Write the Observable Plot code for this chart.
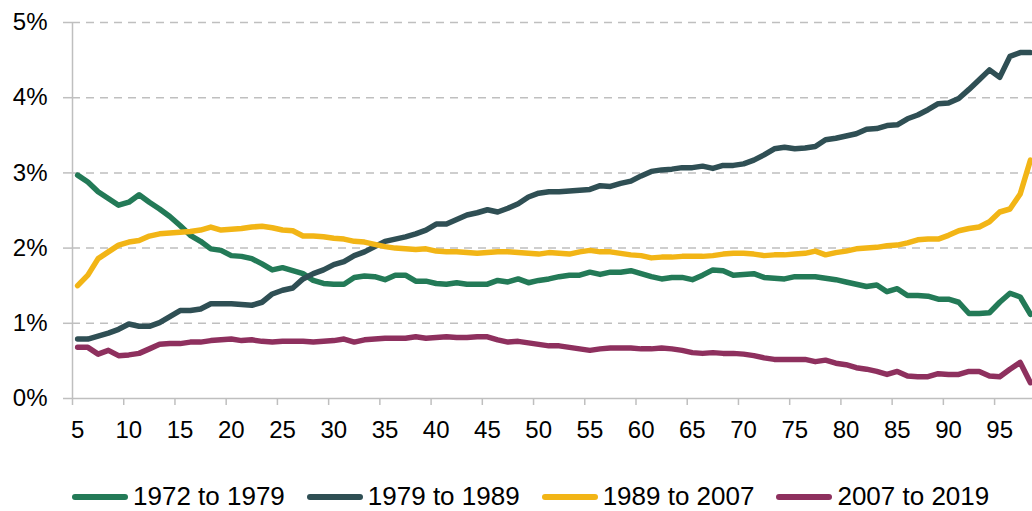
<!DOCTYPE html>
<html>
<head>
<meta charset="utf-8">
<script src="https://cdn.jsdelivr.net/npm/d3@7"></script>
<script src="https://cdn.jsdelivr.net/npm/@observablehq/plot@0.6"></script>
<style>
  html, body { margin: 0; padding: 0; background: #fff; overflow: hidden; }
  #chart svg { display: block; }
  .legend { display: flex; align-items: center; padding-left: 72px; padding-top: 21px; height: 30px; line-height: 30px;
            font-family: "Liberation Sans", Arial, sans-serif; font-size: 26px; color: #000; }
  .legend .item { display: flex; align-items: center; margin-right: 22px; }
  .legend .sw { display: inline-block; width: 56px; height: 6px; border-radius: 3px; margin-right: 5px; margin-top: 2px; }
</style>
</head>
<body>
<div id="chart"></div>
<script>
// Percentile categories (x)
const percentiles = d3.range(5, 99);
const xTickLabels = [5, 10, 15, 20, 25, 30, 35, 40, 45, 50, 55, 60, 65, 70, 75, 80, 85, 90, 95];
const yTickValues = [0, 1, 2, 3, 4, 5];

const seriesNames = ["1972 to 1979", "1979 to 1989", "1989 to 2007", "2007 to 2019"];
const seriesColors = ["#237A57", "#2F4F54", "#F2B516", "#8E305E"];

// Values (%) for percentiles 5..98
const v1972 = [2.97,2.88,2.75,2.66,2.57,2.61,2.71,2.61,2.52,2.42,2.30,2.17,2.09,1.99,1.97,1.90,1.89,1.86,1.79,1.71,
  1.74,1.70,1.66,1.57,1.53,1.52,1.52,1.61,1.63,1.62,1.58,1.64,1.64,1.56,1.56,1.53,1.52,1.54,1.52,1.52,
  1.52,1.57,1.55,1.59,1.54,1.57,1.59,1.62,1.64,1.64,1.68,1.65,1.68,1.68,1.70,1.66,1.62,1.59,1.61,1.61,
  1.58,1.64,1.71,1.70,1.64,1.65,1.66,1.61,1.60,1.59,1.62,1.62,1.62,1.60,1.58,1.55,1.52,1.49,1.51,1.42,
  1.46,1.37,1.37,1.36,1.32,1.32,1.28,1.13,1.13,1.14,1.28,1.40,1.35,1.12];
const v1979 = [0.79,0.79,0.83,0.87,0.92,0.99,0.96,0.96,1.01,1.09,1.17,1.17,1.19,1.26,1.26,1.26,1.25,1.24,1.28,1.39,
  1.44,1.47,1.59,1.66,1.71,1.78,1.82,1.90,1.95,2.02,2.09,2.12,2.15,2.19,2.24,2.32,2.32,2.38,2.44,2.47,
  2.51,2.48,2.53,2.59,2.68,2.73,2.75,2.75,2.76,2.77,2.78,2.83,2.82,2.86,2.89,2.96,3.02,3.04,3.05,3.07,
  3.07,3.09,3.06,3.10,3.10,3.12,3.17,3.24,3.32,3.34,3.32,3.33,3.35,3.44,3.46,3.49,3.52,3.58,3.59,3.63,
  3.64,3.72,3.77,3.84,3.92,3.93,3.99,4.11,4.24,4.37,4.27,4.55,4.60,4.60];
const v1989 = [1.50,1.64,1.86,1.95,2.04,2.08,2.10,2.16,2.19,2.20,2.21,2.22,2.24,2.28,2.24,2.25,2.26,2.28,2.29,2.27,
  2.24,2.23,2.16,2.16,2.15,2.13,2.12,2.09,2.08,2.05,2.02,2.00,1.99,1.98,1.99,1.96,1.95,1.95,1.94,1.93,
  1.94,1.95,1.95,1.94,1.93,1.92,1.94,1.93,1.92,1.95,1.97,1.95,1.95,1.93,1.91,1.90,1.87,1.88,1.88,1.89,
  1.89,1.89,1.90,1.92,1.93,1.93,1.92,1.90,1.91,1.91,1.92,1.93,1.96,1.91,1.94,1.96,1.99,2.00,2.01,2.03,
  2.04,2.07,2.11,2.12,2.12,2.17,2.23,2.26,2.28,2.35,2.48,2.52,2.72,3.17];
const v2007 = [0.68,0.68,0.59,0.64,0.57,0.58,0.60,0.66,0.72,0.73,0.73,0.75,0.75,0.77,0.78,0.79,0.77,0.78,0.76,0.75,
  0.76,0.76,0.76,0.75,0.76,0.77,0.79,0.75,0.78,0.79,0.80,0.80,0.80,0.82,0.80,0.81,0.82,0.81,0.81,0.82,
  0.82,0.78,0.75,0.76,0.74,0.72,0.70,0.70,0.68,0.66,0.64,0.66,0.67,0.67,0.67,0.66,0.66,0.67,0.66,0.64,
  0.61,0.60,0.61,0.60,0.60,0.59,0.57,0.54,0.52,0.52,0.52,0.52,0.49,0.51,0.47,0.45,0.41,0.39,0.36,0.32,
  0.36,0.30,0.29,0.29,0.33,0.32,0.32,0.36,0.36,0.30,0.29,0.39,0.48,0.21];

const allValues = [v1972, v1979, v1989, v2007];
const table = [];
allValues.forEach((vals, i) => {
  percentiles.forEach((p, j) => table.push({p, v: vals[j], series: seriesNames[i]}));
});

const gridColor = "#BFBFBF";

const chart = Plot.plot({
  width: 1032,
  height: 460,
  marginTop: 22,
  marginBottom: 62,
  marginLeft: 72,
  marginRight: 0,
  style: {fontFamily: "'Liberation Sans', Arial, sans-serif", fontSize: "24px", color: "#000", background: "#fff", overflow: "visible"},
  x: {type: "linear", domain: [4.5, 98.2]},
  y: {domain: [0, 5]},
  color: {domain: seriesNames, range: seriesColors},
  marks: [
    Plot.ruleY(yTickValues.filter(d => d > 0), {stroke: gridColor, strokeWidth: 1.5, strokeDasharray: "8,6"}),
    Plot.ruleY([0], {stroke: gridColor, strokeWidth: 1.5}),
    Plot.ruleX([4.5], {stroke: gridColor, strokeWidth: 1.5}),
    Plot.axisY({ticks: yTickValues, tickSize: 9, tickFormat: () => "", color: gridColor, strokeWidth: 1.5, label: null}),
    Plot.axisY({ticks: yTickValues, tickSize: 0, tickPadding: 25, tickFormat: d => d + "%", color: "#000", fontSize: 24, label: null}),
    Plot.axisX({ticks: xTickLabels.map(d => d - 0.5), tickSize: 7, tickFormat: () => "", color: gridColor, strokeWidth: 1.5, label: null}),
    Plot.text(xTickLabels, {x: d => d, text: d => String(d), frameAnchor: "bottom", lineAnchor: "middle", dy: 32, fontSize: 24, fill: "#000"}),
    Plot.line(table, {x: "p", y: "v", z: "series", stroke: "series", strokeWidth: 5.5, strokeLinejoin: "round", strokeLinecap: "round"})
  ]
});
document.getElementById("chart").appendChild(chart);

const legend = document.createElement("div");
legend.className = "legend";
seriesNames.forEach((name, i) => {
  const item = document.createElement("div");
  item.className = "item";
  const sw = document.createElement("span");
  sw.className = "sw";
  sw.style.background = seriesColors[i];
  const label = document.createElement("span");
  label.textContent = name;
  item.appendChild(sw);
  item.appendChild(label);
  legend.appendChild(item);
});
document.body.appendChild(legend);
</script>
</body>
</html>
